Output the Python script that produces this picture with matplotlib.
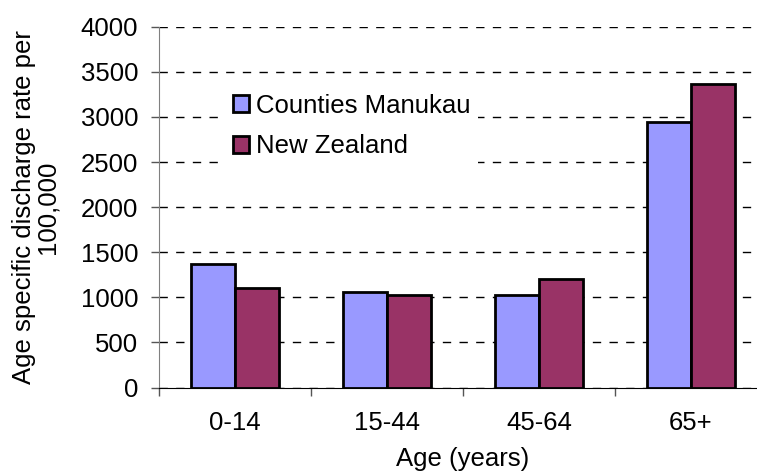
import matplotlib.pyplot as plt
import numpy as np

plt.rcParams['font.family'] = ['Liberation Sans', 'DejaVu Sans']

ages = ['0-14', '15-44', '45-64', '65+']
counties_manukau = [1373, 1058, 1028, 2944]
new_zealand = [1102, 1028, 1203, 3366]

fig = plt.figure(figsize=(7.57, 4.72), dpi=100)
# plot area runs a bit past the right edge, as in the original
ax = fig.add_axes([159/757, 1-387.5/472, 608/757, 360.8/472])

x = np.arange(len(ages))
w = 0.29
ax.bar(x - w/2, counties_manukau, w, color='#9999FF', edgecolor='black', linewidth=2,
       label='Counties Manukau', zorder=3)
ax.bar(x + w/2, new_zealand, w, color='#993366', edgecolor='black', linewidth=2,
       label='New Zealand', zorder=3)

ax.set_xlim(-0.5, 3.5)
ax.set_ylim(0, 4000)
ax.set_yticks(np.arange(0, 4001, 500))
ax.grid(axis='y', color='black', linestyle=(0, (6, 6)), linewidth=1, zorder=0)

# category labels at centres, tick marks at boundaries
ax.set_xticks(np.arange(-0.5, 4, 1))
ax.set_xticklabels([])
ax.set_xticks(x, minor=True)
ax.set_xticklabels(ages, minor=True)
ax.tick_params(axis='x', which='major', length=6, width=1, color='#555555', direction='out')
ax.tick_params(axis='x', which='minor', length=0, pad=17, labelsize=18.5)
ax.tick_params(axis='y', length=6, width=1, color='#555555', pad=9, labelsize=18.5)

for s in ['top', 'right']:
    ax.spines[s].set_visible(False)
ax.spines['left'].set_color('#808080')
ax.spines['bottom'].set_color('black')

ax.set_ylabel('Age specific discharge rate per\n100,000', fontsize=18.5, linespacing=1.0,
              va='center')
ax.yaxis.set_label_coords(-0.203, 0.5)
ax.set_xlabel('Age (years)', fontsize=18.5, va='center')
ax.xaxis.set_label_coords(0.5, -0.198)

leg = ax.legend(loc='upper left', bbox_to_anchor=(0.1086, 0.836), fontsize=18.5,
                frameon=True, facecolor='white', edgecolor='none', framealpha=1,
                fancybox=False, handlelength=0.65, handleheight=0.65,
                handletextpad=0.25, labelspacing=0.65, borderpad=0.3, borderaxespad=0)
leg.set_zorder(5)

fig.savefig('out.png', dpi=100)
